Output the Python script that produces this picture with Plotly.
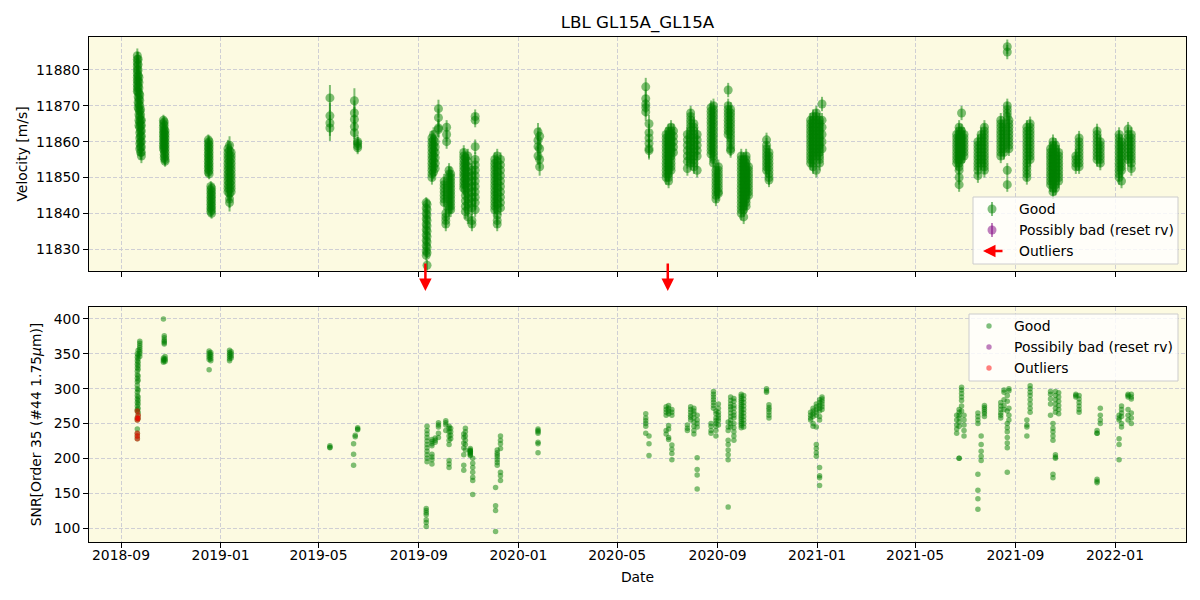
import plotly.graph_objects as go

TITLE = "LBL GL15A_GL15A"

# ---------------- data ----------------
rv_nights = [
    "2018-09-21", "2018-09-22", "2018-09-23", "2018-09-24", "2018-09-25", "2018-09-26",
    "2018-10-23", "2018-10-24", "2018-10-25",
    "2018-12-17", "2018-12-18", "2018-12-20", "2018-12-21",
    "2019-01-10", "2019-01-12", "2019-01-14",
    "2019-05-15",
    "2019-06-14", "2019-06-18",
    "2019-09-10", "2019-09-11",
    "2019-09-17", "2019-09-19", "2019-09-21", "2019-09-25",
    "2019-10-02", "2019-10-04", "2019-10-05", "2019-10-08", "2019-10-10",
    "2019-10-26", "2019-10-28", "2019-10-31", "2019-11-05", "2019-11-09",
    "2019-12-03", "2019-12-06", "2019-12-10",
    "2020-01-25", "2020-01-27",
    "2020-06-05", "2020-06-09",
    "2020-06-30", "2020-07-03", "2020-07-06", "2020-07-09",
    "2020-07-26", "2020-07-30", "2020-08-03", "2020-08-07",
    "2020-08-24", "2020-08-27", "2020-08-30", "2020-09-02",
    "2020-09-14", "2020-09-17",
    "2020-09-30", "2020-10-03", "2020-10-06", "2020-10-09",
    "2020-10-31", "2020-11-03",
    "2020-12-24", "2020-12-27", "2020-12-31", "2021-01-04", "2021-01-07",
    "2021-06-21", "2021-06-24", "2021-06-27", "2021-06-30",
    "2021-07-17", "2021-07-21", "2021-07-25",
    "2021-08-14", "2021-08-18", "2021-08-22", "2021-08-24",
    "2021-09-15", "2021-09-19",
    "2021-10-14", "2021-10-17", "2021-10-20", "2021-10-24",
    "2021-11-14", "2021-11-18",
    "2021-12-10", "2021-12-14",
    "2022-01-06", "2022-01-09", "2022-01-17", "2022-01-21",
]

rv_values = [
    [11884, 11883, 11882, 11881, 11880, 11879, 11878, 11877, 11876, 11875, 11874],
    [11883, 11881.5, 11880, 11878.5, 11877, 11875.5, 11874, 11872.5, 11871, 11869.5],
    [11878, 11876.5, 11875, 11873.5, 11872, 11870.5, 11869, 11867.5, 11866, 11864.5],
    [11873, 11871.5, 11870, 11868.5, 11867, 11865.5, 11864, 11862.5, 11861, 11859.5, 11858],
    [11869, 11867.5, 11866, 11864.5, 11863, 11861.5, 11860, 11858.5, 11857],
    [11866, 11864.5, 11863, 11861.5, 11860, 11858.5, 11857, 11856],
    [11866, 11865, 11864, 11863, 11862, 11861, 11860, 11859, 11858],
    [11865.5, 11864.5, 11863.5, 11862.5, 11861.5, 11860.5, 11859.5, 11858.5, 11857.5, 11856.5, 11855.5],
    [11863, 11862, 11861, 11860, 11859, 11858, 11857, 11856, 11855, 11854.5],
    [11860.5, 11859.5, 11858.5, 11857.5, 11856.5, 11855.5, 11854.5, 11853.5, 11852.5, 11851.5],
    [11860, 11859, 11858, 11857, 11856, 11855, 11854, 11853, 11852, 11851],
    [11847.5, 11846.5, 11845.5, 11844.5, 11843.5, 11842.5, 11841.5, 11840.5],
    [11847, 11846, 11845, 11844, 11843, 11842, 11841, 11840],
    [11858, 11857, 11856, 11855, 11854, 11853, 11852, 11851, 11850, 11849, 11848, 11847, 11846],
    [11859, 11857.5, 11856, 11854.5, 11853, 11851.5, 11850, 11848.5, 11847, 11845.5, 11844, 11843],
    [11857, 11856, 11855, 11854, 11853, 11852, 11851, 11850, 11849, 11848, 11847, 11846],
    [11872.2, 11867.2, 11865.2, 11863.8],
    [11871.4, 11868, 11866.2, 11864.2, 11862.5],
    [11860, 11859.5, 11858.8, 11858.3],
    [11843, 11841.5, 11840, 11838.5, 11837, 11835.5, 11834, 11832.5, 11831, 11829.5, 11828.3],
    [11842.5, 11841, 11839.5, 11838, 11836.5, 11835, 11833.5, 11832, 11830.5, 11829, 11825.5],
    [11861, 11860, 11859, 11858, 11857, 11856, 11855, 11854, 11853, 11852, 11851, 11850],
    [11862, 11860.5, 11859, 11857.5, 11856, 11854.5, 11853, 11851.5],
    [11860, 11858.5, 11857, 11855.5, 11854, 11852.5],
    [11869.2, 11866.7, 11863.8, 11863.4],
    [11849, 11848, 11847, 11846, 11845, 11844, 11843],
    [11840, 11839, 11838, 11837],
    [11864, 11862, 11860],
    [11852, 11851, 11850, 11849, 11848, 11847, 11846, 11845, 11844, 11843, 11842, 11841],
    [11851, 11850, 11849, 11848, 11847, 11846, 11845, 11844, 11843, 11842, 11841],
    [11857, 11856, 11855, 11854, 11853, 11852, 11851, 11850, 11849, 11848, 11847],
    [11855.5, 11854, 11852.5, 11851, 11849.5, 11848, 11846.5, 11845, 11843.5, 11842, 11840.5],
    [11856, 11854.5, 11853, 11851.5, 11850, 11848.5, 11847, 11845.5, 11844, 11842.5, 11841, 11839],
    [11852, 11850.5, 11849, 11847.5, 11846, 11844.5, 11843, 11841.5, 11838, 11837],
    [11867, 11866, 11858.6, 11855, 11853.5, 11852, 11850.5, 11849, 11847.5, 11846, 11844.5, 11843, 11841],
    [11855, 11854, 11853, 11852, 11851, 11850, 11849, 11848, 11847, 11846, 11845, 11844, 11843, 11842, 11841],
    [11856, 11854.5, 11853, 11851.5, 11850, 11848.5, 11847, 11845.5, 11844, 11842.5, 11841, 11839.5, 11838, 11837],
    [11855, 11853.5, 11852, 11850.5, 11849, 11847.5, 11846, 11844.5, 11843, 11841.5],
    [11862.7, 11860.4, 11858.6, 11856],
    [11861.5, 11858, 11855, 11853],
    [11875.3, 11872, 11870.5, 11869.5, 11868.3],
    [11865, 11862.5, 11861, 11859.5, 11858, 11857.5],
    [11862, 11861, 11860, 11859, 11858, 11857, 11856, 11855, 11854, 11853, 11852, 11851, 11850],
    [11863, 11862, 11861, 11860, 11859, 11858, 11857, 11856, 11855, 11854, 11853, 11852, 11851, 11850, 11849],
    [11864, 11863, 11862, 11861, 11860, 11859, 11858, 11857, 11856, 11855, 11854, 11853, 11852],
    [11863, 11861.5, 11860, 11858.5, 11857],
    [11862, 11860.5, 11859, 11857.5, 11856, 11854.5, 11852.5],
    [11868, 11867, 11866, 11865, 11864, 11863, 11862, 11861, 11860, 11859, 11858, 11857, 11856, 11855, 11854],
    [11865, 11864, 11863, 11862, 11861, 11860, 11859, 11858, 11857, 11856, 11855, 11854, 11853],
    [11862, 11860.5, 11859, 11857.5, 11856, 11852],
    [11869.5, 11868.5, 11867.5, 11866.5, 11865.5, 11864.5, 11863.5, 11862.5, 11861.5, 11860.5, 11859.5, 11858.5, 11857.5, 11856.5],
    [11870, 11869, 11868, 11867, 11866, 11865, 11864, 11863, 11862, 11861, 11860, 11859, 11858, 11857, 11856, 11855, 11854],
    [11852, 11851, 11850, 11849, 11848, 11847, 11846, 11845, 11844],
    [11853, 11852, 11851, 11850, 11849, 11848, 11847, 11846, 11845.5],
    [11874.4, 11870, 11869, 11868, 11867, 11866, 11865, 11864, 11863, 11862],
    [11869, 11868, 11867, 11866, 11865, 11864, 11863, 11862, 11861, 11860, 11859, 11858, 11857.5],
    [11856, 11855, 11854, 11853, 11852, 11851, 11850, 11849, 11848, 11847, 11846, 11845, 11844, 11843, 11842, 11841, 11840],
    [11855, 11854, 11853, 11852, 11851, 11850, 11849, 11848, 11847, 11846, 11845, 11844, 11843, 11842, 11841, 11839],
    [11856, 11855, 11854, 11853, 11852, 11851, 11850, 11849, 11848, 11847, 11846, 11845, 11844, 11843, 11842],
    [11853, 11852, 11851, 11850, 11849, 11848, 11847, 11846, 11845],
    [11860.5, 11859, 11858, 11857, 11856, 11855, 11854, 11853, 11852],
    [11857, 11856, 11855, 11854, 11853, 11852, 11851, 11850, 11849.3],
    [11866, 11865, 11864, 11863, 11862, 11861, 11860, 11859, 11858, 11857, 11856, 11855, 11854],
    [11867, 11866, 11865, 11864, 11863, 11862, 11861, 11860, 11859, 11858, 11857, 11856, 11855, 11854, 11853],
    [11868, 11867, 11866, 11865, 11864, 11863, 11862, 11861, 11860, 11859, 11858, 11857, 11856, 11852],
    [11866, 11865, 11864, 11863, 11862, 11861, 11860, 11859, 11858, 11857, 11856, 11855, 11854],
    [11870.5, 11866, 11864, 11862, 11860, 11858],
    [11862, 11861, 11860, 11859, 11858, 11857, 11856, 11855, 11854],
    [11864, 11863, 11862, 11861, 11860, 11859, 11858, 11857, 11856, 11855, 11854, 11853, 11852, 11850, 11848],
    [11868, 11863, 11862, 11861, 11860, 11859, 11858, 11857, 11856, 11855],
    [11862, 11861, 11860, 11859, 11858, 11857, 11856],
    [11860, 11859, 11858, 11857, 11856, 11855, 11854, 11853, 11852, 11850.5],
    [11862, 11861, 11860, 11859, 11858, 11857, 11856, 11855, 11854],
    [11864, 11863, 11862, 11861, 11860, 11859, 11858, 11857, 11856, 11855, 11854, 11853, 11852],
    [11866, 11865, 11864, 11863, 11862, 11861, 11860, 11859, 11858, 11857, 11856],
    [11865, 11864, 11863, 11862, 11861, 11860, 11859, 11858, 11857],
    [11886.5, 11885, 11870, 11869, 11868, 11867, 11852, 11848],
    [11866, 11865, 11864, 11863, 11862, 11861, 11860, 11859, 11858],
    [11864, 11863, 11862, 11861, 11860, 11859, 11858, 11857, 11856, 11855, 11854, 11853, 11852, 11851, 11850],
    [11865, 11864, 11863, 11862, 11861, 11860, 11859, 11858, 11857, 11856, 11855],
    [11858, 11857, 11856, 11855, 11854, 11853, 11852, 11851, 11850, 11849, 11848],
    [11860, 11859, 11858, 11857, 11856, 11855, 11854, 11853, 11852, 11851, 11850, 11849, 11848, 11847, 11846],
    [11859, 11858, 11857, 11856, 11855, 11854, 11853, 11852, 11851, 11850, 11849, 11848, 11847],
    [11857, 11856, 11855, 11854, 11853, 11852, 11851, 11850, 11849],
    [11856, 11855, 11854, 11853],
    [11861, 11860, 11859, 11858, 11857, 11856, 11855, 11854, 11853],
    [11863, 11862, 11861, 11860, 11859, 11858, 11857, 11856, 11855],
    [11860, 11859, 11858, 11857, 11856, 11855, 11854],
    [11862, 11861, 11860, 11859, 11858, 11857, 11856, 11855, 11854, 11853, 11852, 11851, 11850],
    [11860, 11859, 11858, 11857, 11856, 11855, 11854, 11853, 11852, 11849],
    [11863.5, 11862, 11861, 11860, 11859, 11858, 11857, 11856, 11855],
    [11862, 11861, 11860, 11859, 11858, 11857, 11856, 11855, 11854, 11852.5],
]

rv_errors = [
    2.0, 2.0, 2.0, 2.0, 2.0, 2.0,
    1.5, 1.5, 1.5,
    1.5, 1.5, 1.5, 1.5,
    2.5, 2.5, 2.5,
    3.6,
    3.5, 1.8,
    1.5, 1.5,
    2.0, 2.0, 2.0, 2.5,
    2.0, 2.0, 2.0, 2.0, 2.0,
    2.0, 2.0, 2.0, 2.0, 2.0,
    2.0, 2.0, 2.0,
    2.5, 2.5,
    2.5, 2.5,
    2.0, 2.0, 2.0, 2.0,
    2.0, 2.0, 2.0, 2.0,
    2.0, 2.0, 2.0, 2.0,
    2.0, 2.0,
    2.0, 2.0, 2.0, 2.0,
    2.0, 2.0,
    2.0, 2.0, 2.0, 2.0, 2.0,
    2.0, 2.0, 2.0, 2.0,
    2.0, 2.0, 2.0,
    2.0, 2.0, 2.0, 2.0,
    2.0, 2.0,
    2.0, 2.0, 2.0, 2.0,
    2.0, 2.0,
    2.0, 2.0,
    2.0, 2.0, 2.0, 2.0,
]

snr_nights = [
    "2018-09-21", "2018-09-22", "2018-09-24",
    "2018-10-23", "2018-10-24", "2018-10-25",
    "2018-12-18", "2018-12-20",
    "2019-01-12", "2019-01-14",
    "2019-05-15",
    "2019-06-13", "2019-06-15", "2019-06-18",
    "2019-09-10", "2019-09-11",
    "2019-09-17", "2019-09-21", "2019-09-25",
    "2019-10-04", "2019-10-08", "2019-10-10",
    "2019-10-26", "2019-10-28", "2019-11-03", "2019-11-06",
    "2019-12-04", "2019-12-06", "2019-12-10",
    "2020-01-25",
    "2020-06-05", "2020-06-09",
    "2020-06-30", "2020-07-03", "2020-07-07",
    "2020-07-26", "2020-07-30", "2020-08-03", "2020-08-07",
    "2020-08-24", "2020-08-27", "2020-08-30", "2020-09-02",
    "2020-09-14", "2020-09-17", "2020-09-21",
    "2020-09-30", "2020-10-03",
    "2020-10-31", "2020-11-03",
    "2020-12-24", "2020-12-27", "2020-12-31", "2021-01-04", "2021-01-07",
    "2021-06-21", "2021-06-24", "2021-06-27", "2021-06-30",
    "2021-07-17", "2021-07-21", "2021-07-25",
    "2021-08-14", "2021-08-18", "2021-08-22", "2021-08-24",
    "2021-09-15", "2021-09-19",
    "2021-10-14", "2021-10-17", "2021-10-20", "2021-10-24",
    "2021-11-14", "2021-11-18",
    "2021-12-10", "2021-12-14",
    "2022-01-06", "2022-01-09", "2022-01-17", "2022-01-21",
]

snr_values = [
    [350, 345, 340, 335, 330, 325, 320, 315, 310, 305, 300, 295, 290, 285, 280, 275, 270, 242],
    [355, 348, 343, 338, 333, 328, 318, 312, 298, 288, 283, 278, 272, 266],
    [368, 365, 362, 359, 356, 353, 350, 346],
    [400, 344, 342, 340, 338],
    [376, 373, 370, 368, 366, 364],
    [346, 343, 341, 339],
    [354, 351, 348, 345, 342, 327],
    [352, 349, 346, 343, 340],
    [355, 352, 349, 346, 343, 340],
    [353, 350, 347, 344],
    [218, 216, 215],
    [221, 206, 190],
    [233, 231],
    [244, 242, 241],
    [128, 125, 122, 119, 112, 108, 102],
    [246, 240, 235, 230, 225, 220, 215, 210, 205, 200, 195],
    [227, 224, 221, 218, 206, 202, 198, 192],
    [229, 226, 223],
    [251, 248, 245, 236, 230],
    [254, 251, 248, 240],
    [246, 243, 238, 232, 226, 220, 197, 192, 187],
    [243, 238, 233, 228],
    [235, 230, 222, 215, 205, 190, 183],
    [243, 238, 232, 226, 220, 212],
    [214, 212, 210, 209, 207, 205, 204, 211, 208],
    [200, 193, 187, 180, 173, 168, 148],
    [158, 132, 125, 95],
    [212, 208, 205, 202, 198, 194, 190],
    [232, 226, 221, 214, 180, 175, 168],
    [242, 240, 238, 236, 223, 221, 208],
    [264, 258, 254, 250, 246, 236],
    [232, 221, 204],
    [274, 270, 266, 262, 240, 235],
    [276, 272, 268, 264, 247, 242, 230, 227],
    [270, 266, 262, 219, 213, 207, 198],
    [248, 243, 240],
    [274, 270, 266, 262, 259, 255],
    [272, 268, 264, 258, 252, 246, 240, 235],
    [262, 255, 250, 245, 201, 184, 176, 156],
    [250, 246, 240, 236],
    [296, 292, 288, 284, 280, 276, 272],
    [268, 264, 258, 254, 250, 246, 240, 232],
    [278, 272, 266, 262, 258, 254, 248],
    [130, 198, 205, 212, 220, 226, 240, 245, 252],
    [288, 283, 278, 274, 270, 265, 260, 255, 250, 245],
    [286, 282, 276, 272, 266, 262, 258, 250, 244, 238, 232, 226],
    [292, 289, 286, 283, 280, 277, 274, 271, 268, 265, 262, 259, 256, 253, 250, 247, 244],
    [290, 285, 280, 275, 270, 265, 260, 255, 250, 245],
    [300, 297, 295],
    [277, 273, 270, 266, 262, 258],
    [266, 262, 258, 255],
    [272, 268, 264, 260, 250, 246],
    [278, 274, 270, 266, 262, 245, 220, 214, 208, 203],
    [284, 280, 276, 272, 268, 260, 255, 187, 175, 172, 161],
    [288, 285, 282, 278, 274, 270],
    [262, 255, 248, 242, 236],
    [270, 266, 262, 258, 252, 246, 200, 200],
    [302, 298, 293, 288, 283, 275, 268],
    [262, 255, 248, 240, 232],
    [265, 260, 255, 250, 177, 154, 142, 127],
    [232, 220, 210, 203, 197],
    [276, 273, 270, 267, 264, 260],
    [280, 275, 270, 265, 262, 258],
    [298, 295, 284, 276, 270],
    [290, 282, 268, 250, 244, 238, 230, 222, 215, 180],
    [300, 297, 272, 262, 255],
    [255, 248, 245, 232],
    [304, 300, 295, 290, 284, 278, 272, 266],
    [296, 292, 285, 278, 262],
    [250, 243, 238, 232, 226, 177, 172],
    [296, 290, 284, 278, 272, 266, 205, 202, 200],
    [294, 288, 282, 276, 270, 264],
    [292, 290, 288],
    [290, 285, 280, 275, 270, 266],
    [240, 236, 236, 170, 167, 165],
    [272, 262, 255, 250],
    [228, 220, 198, 262, 258, 255],
    [275, 270, 265, 260, 250, 245],
    [292, 290, 288, 270, 262, 255],
    [292, 288, 285, 265, 258, 250],
]

# flagged points (plotted in green as well, then overplotted in red)
snr_outlier_nights = ["2018-09-21", "2018-09-22"]
snr_outlier_values = [[268, 258, 255, 236, 232, 228], [262, 257]]

outlier_dates = ["2019-09-09", "2020-07-02"]

date_ticks = ["2018-09-01", "2019-01-01", "2019-05-01", "2019-09-01", "2020-01-01",
              "2020-05-01", "2020-09-01", "2021-01-01", "2021-05-01", "2021-09-01",
              "2022-01-01"]
date_tick_labels = ["2018-09", "2019-01", "2019-05", "2019-09", "2020-01", "2020-05",
                    "2020-09", "2021-01", "2021-05", "2021-09", "2022-01"]

x_range = ["2018-07-23 19:00", "2022-03-29"]
rv_range = [11823.9, 11889.2]
snr_range = [79.9, 417.2]

legend_top = ["Good", "Possibly bad (reset rv)", "Outliers"]
legend_bottom = ["Good", "Possibily bad (reset rv)", "Outliers"]


def expand(nights, values, errs=None):
    xs, ys, es = [], [], []
    for i, (d, vals) in enumerate(zip(nights, values)):
        for v in vals:
            xs.append(d)
            ys.append(v)
            if errs is not None:
                es.append(errs[i])
    return xs, ys, es


rv_x, rv_y, rv_e = expand(rv_nights, rv_values, rv_errors)
snr_x, snr_y, _ = expand(snr_nights, snr_values)
out_x, out_y, _ = expand(snr_outlier_nights, snr_outlier_values)

# ---------------- styling ----------------
W, H = 1200, 600
L, R, T, B = 89, 1186, 37, 542
TOP_BOTTOM_PX = 271
BOT_TOP_PX = 307

GREEN = "rgba(0,128,0,0.5)"
PURPLE = "rgba(128,0,128,0.5)"
RED = "rgba(255,0,0,0.5)"
BG = "#FCFAE1"
GRID = "#cfcfd4"
FONT = "DejaVu Sans"
FS = 13.9


def pxx(x):
    return (x - L) / (R - L)


def pxy(y):
    return (B - y) / (B - T)


fig = go.Figure()

fig.add_trace(go.Scatter(
    x=rv_x, y=rv_y, mode="markers", xaxis="x", yaxis="y",
    marker=dict(size=9, color=GREEN, line=dict(width=0)),
    error_y=dict(type="data", array=rv_e, visible=True, color=GREEN, thickness=2, width=0),
    showlegend=False, hoverinfo="skip",
))

fig.add_trace(go.Scatter(
    x=snr_x + out_x, y=snr_y + out_y, mode="markers", xaxis="x2", yaxis="y2",
    marker=dict(size=5.5, color=GREEN, line=dict(width=0)),
    showlegend=False, hoverinfo="skip",
))
fig.add_trace(go.Scatter(
    x=out_x, y=out_y, mode="markers", xaxis="x2", yaxis="y2",
    marker=dict(size=5.5, color=RED, line=dict(width=0)),
    showlegend=False, hoverinfo="skip",
))

axis_common = dict(
    showline=True, linecolor="black", linewidth=1, mirror=True,
    ticks="outside", ticklen=5, tickwidth=1, tickcolor="black",
    showgrid=True, gridcolor=GRID, griddash="4px,2px", gridwidth=1,
    zeroline=False, tickfont=dict(family=FONT, size=FS, color="black"),
)

top_dom = [pxy(TOP_BOTTOM_PX), 1.0]
bot_dom = [0.0, pxy(BOT_TOP_PX)]

fig.update_layout(
    width=W, height=H,
    margin=dict(l=L, r=W - R, t=T, b=H - B, autoexpand=False),
    paper_bgcolor="white", plot_bgcolor=BG,
    font=dict(family=FONT, size=FS, color="black"),
    title=dict(text=TITLE, x=0.5, xref="paper", xanchor="center",
               y=1 - 22 / H, yref="container", yanchor="middle",
               font=dict(family=FONT, size=16.7, color="black")),
    xaxis=dict(domain=[0, 1], anchor="y", range=x_range, type="date",
               tickvals=date_ticks, ticktext=date_tick_labels, showticklabels=False,
               matches="x2", **axis_common),
    yaxis=dict(domain=top_dom, anchor="x", range=rv_range, dtick=10, tick0=11830,
               tickformat="d",
               title=dict(text="Velocity [m/s]", standoff=5,
                          font=dict(family=FONT, size=FS)),
               **axis_common),
    xaxis2=dict(domain=[0, 1], anchor="y2", range=x_range, type="date",
                tickvals=date_ticks, ticktext=date_tick_labels, ticklabelstandoff=-5,
                title=dict(text="Date", standoff=10, font=dict(family=FONT, size=FS)),
                **axis_common),
    yaxis2=dict(domain=bot_dom, anchor="x2", range=snr_range, dtick=50, tick0=100,
                tickformat="d",
                title=dict(text="SNR[Order 35 (#44 1.75<i>μ</i>m)]", standoff=8,
                           font=dict(family=FONT, size=FS)),
                **axis_common),
)

shapes = []
annotations = []

# outlier arrows (points below the velocity axis)
for d in outlier_dates:
    annotations.append(dict(
        x=d, xref="x", y=pxy(291), yref="paper", text="", showarrow=True,
        ax=0, ay=-29, axref="pixel", ayref="pixel",
        arrowcolor="red", arrowwidth=2.5, arrowhead=2, arrowsize=1,
    ))

# ---------- top legend ----------
shapes.append(dict(type="rect", xref="paper", yref="paper",
                   x0=pxx(973), x1=pxx(1178), y0=pxy(264), y1=pxy(197),
                   fillcolor="rgba(255,255,255,0.8)", line=dict(color="#cccccc", width=1),
                   layer="above"))
rows_top = [209, 230, 251]
for col, yy in zip([GREEN, PURPLE], rows_top[:2]):
    shapes.append(dict(type="line", xref="paper", yref="paper",
                       x0=pxx(992), x1=pxx(992), y0=pxy(yy + 7), y1=pxy(yy - 7),
                       line=dict(color=col, width=2), layer="above"))
    shapes.append(dict(type="circle", xref="paper", yref="paper",
                       xsizemode="pixel", ysizemode="pixel",
                       xanchor=pxx(992), yanchor=pxy(yy),
                       x0=-4.5, x1=4.5, y0=-4.5, y1=4.5,
                       fillcolor=col, line=dict(width=0), layer="above"))
annotations.append(dict(
    x=pxx(983), y=pxy(rows_top[2]), xref="paper", yref="paper", text="",
    showarrow=True, ax=21, ay=0, axref="pixel", ayref="pixel",
    arrowcolor="red", arrowwidth=2.5, arrowhead=2, arrowsize=1,
))
for label, yy in zip(legend_top, rows_top):
    annotations.append(dict(x=pxx(1017), y=pxy(yy), xref="paper", yref="paper",
                            text=label, showarrow=False, xanchor="left", yanchor="middle",
                            font=dict(family=FONT, size=FS, color="black")))

# ---------- bottom legend ----------
shapes.append(dict(type="rect", xref="paper", yref="paper",
                   x0=pxx(969), x1=pxx(1178), y0=pxy(381), y1=pxy(314),
                   fillcolor="rgba(255,255,255,0.8)", line=dict(color="#cccccc", width=1),
                   layer="above"))
rows_bot = [326, 347, 368]
for col, yy in zip([GREEN, PURPLE, RED], rows_bot):
    shapes.append(dict(type="circle", xref="paper", yref="paper",
                       xsizemode="pixel", ysizemode="pixel",
                       xanchor=pxx(989), yanchor=pxy(yy),
                       x0=-2.7, x1=2.7, y0=-2.7, y1=2.7,
                       fillcolor=col, line=dict(width=0), layer="above"))
for label, yy in zip(legend_bottom, rows_bot):
    annotations.append(dict(x=pxx(1012), y=pxy(yy), xref="paper", yref="paper",
                            text=label, showarrow=False, xanchor="left", yanchor="middle",
                            font=dict(family=FONT, size=FS, color="black")))

fig.update_layout(shapes=shapes, annotations=annotations)

fig.write_html("out.html")
